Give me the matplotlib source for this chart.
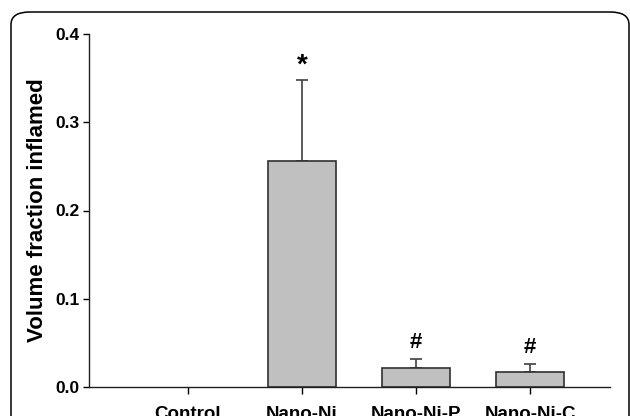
import matplotlib
matplotlib.use("Agg")
from matplotlib import pyplot as plt
from matplotlib.patches import FancyBboxPatch

# data
groups = ["Control", "Nano-Ni", "Nano-Ni-P", "Nano-Ni-C"]
means = [0.0, 0.256, 0.0215, 0.0167]
errors = [0.0, 0.092, 0.0107, 0.0098]
marks = ["", "*", "#", "#"]
yticks = [0.0, 0.1, 0.2, 0.3, 0.4]

plt.rcParams["font.family"] = ["Liberation Sans", "DejaVu Sans"]
plt.rcParams["font.weight"] = "bold"

W, H = 630, 416
fig = plt.figure(figsize=(W / 100, H / 100), dpi=100)

# rounded frame around the panel (runs off the right and bottom edges)
frame = FancyBboxPatch((11 / W, -20 / H), 618 / W, (H - 12 + 20) / H,
                       boxstyle="round,pad=0,rounding_size=0.03",
                       transform=fig.transFigure, facecolor="none",
                       edgecolor="black", linewidth=1.1, clip_on=False)
fig.patches.append(frame)

ax = fig.add_axes([89 / W, 29 / H, 521 / W, 353 / H])
x = list(range(len(groups)))
lw = [1.2 if m > 0 else 0 for m in means]
ax.bar(x, means, width=0.6, color="#c0c0c0", edgecolor="#303030",
       linewidth=lw, zorder=2)

# only upper error bars, skip the empty control group
ex = [xi for xi, e in zip(x, errors) if e > 0]
em = [m for m, e in zip(means, errors) if e > 0]
ee = [e for e in errors if e > 0]
ax.errorbar(ex, em, yerr=[[0] * len(ee), ee], fmt="none",
            ecolor="#404040", elinewidth=1.2, capsize=4, capthick=1.2, zorder=1)

for xi, m, e, s in zip(x, means, errors, marks):
    if s:
        ax.annotate(s, (xi, m + e), xytext=(0, 1 if s == "*" else 4),
                    textcoords="offset points", ha="center", va="bottom",
                    fontsize=20 if s == "*" else 16, fontweight="bold")

ax.set_xlim(-0.868, 3.70)
ax.set_ylim(0, 0.4)
ax.set_yticks(yticks)
ax.set_yticklabels(["%.1f" % v for v in yticks])
ax.set_xticks(x)
ax.set_xticklabels(groups)
ax.set_ylabel("Volume fraction inflamed", fontsize=16, fontweight="bold", labelpad=5)

for side in ["top", "right"]:
    ax.spines[side].set_visible(False)
for side in ["left", "bottom"]:
    ax.spines[side].set_linewidth(1.0)
    ax.spines[side].set_color("#202020")
ax.tick_params(axis="y", direction="out", length=4, width=1.0, labelsize=12.5, pad=3)
ax.tick_params(axis="x", direction="out", length=5, width=1.0, labelsize=13.5, pad=9)

fig.savefig("out.png", dpi=100)
